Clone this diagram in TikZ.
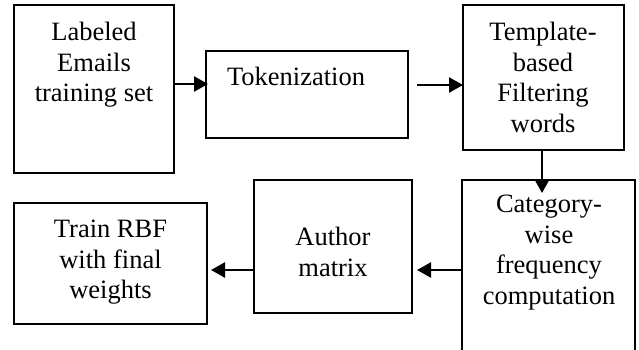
\documentclass[tikz,border=0pt]{standalone}
\usepackage{fontspec}
\setmainfont{Liberation Serif}
\usetikzlibrary{arrows.meta,calc}
\begin{document}
\begin{tikzpicture}[x=1pt,y=-1pt,
  box/.style={draw,line width=1.8pt,inner sep=0pt,outer sep=0pt},
  txt/.style={inner sep=0pt,outer sep=0pt,align=center,font=\fontsize{26.5}{30.7}\selectfont},
  arr/.style={line width=2.4pt,-{Triangle[length=14pt,width=15pt]}}]
\useasboundingbox (0,0) rectangle (639,350);
\clip (0,0) rectangle (639,350);
% boxes
\node[box,minimum width=160pt,minimum height=168pt] (b1) at (94,89) {};
\node[box,minimum width=202pt,minimum height=87pt] (tok) at (307,94.5) {};
\node[box,minimum width=161pt,minimum height=145pt] (tmpl) at (543.5,77.5) {};
\node[box,minimum width=173pt,minimum height=190pt] (cat) at (548.5,275) {};
\node[box,minimum width=158pt,minimum height=133pt] (auth) at (333,246.5) {};
\node[box,minimum width=193pt,minimum height=121pt] (train) at (110.5,263.5) {};
% texts
\node[txt,anchor=north] (t1) at (94,22) {Labeled\\Emails\\training set};
\node[txt,anchor=base west] (t2) at (227,86) {Tokenization};
\node[txt,anchor=north] (t3) at (543,22) {Template-\\based\\Filtering\\words};
\node[txt,anchor=north] (t4) at (549,195) {Category-\\wise\\frequency\\computation};
\node[txt,anchor=north] (t5) at (333,227) {Author\\matrix};
\node[txt,anchor=north] (t6) at (110.5,220) {Train RBF\\with final\\weights};
% connectors
\draw[arr] (b1.east |- 0,84) -- ($(tok.west |- 0,84)+(2,0)$);
\draw[arr] ($(tok.east |- 0,85)+(9,0)$) -- (tmpl.west |- 0,85);
\draw[arr] (tmpl.south -| 542,0) -- ($(cat.north -| 542,0)+(0,13)$);
\draw[arr] (cat.west |- 0,270) -- ($(auth.east |- 0,270)+(5,0)$);
\draw[arr] (auth.west |- 0,270) -- ($(train.east |- 0,270)+(4,0)$);
\end{tikzpicture}
\end{document}
